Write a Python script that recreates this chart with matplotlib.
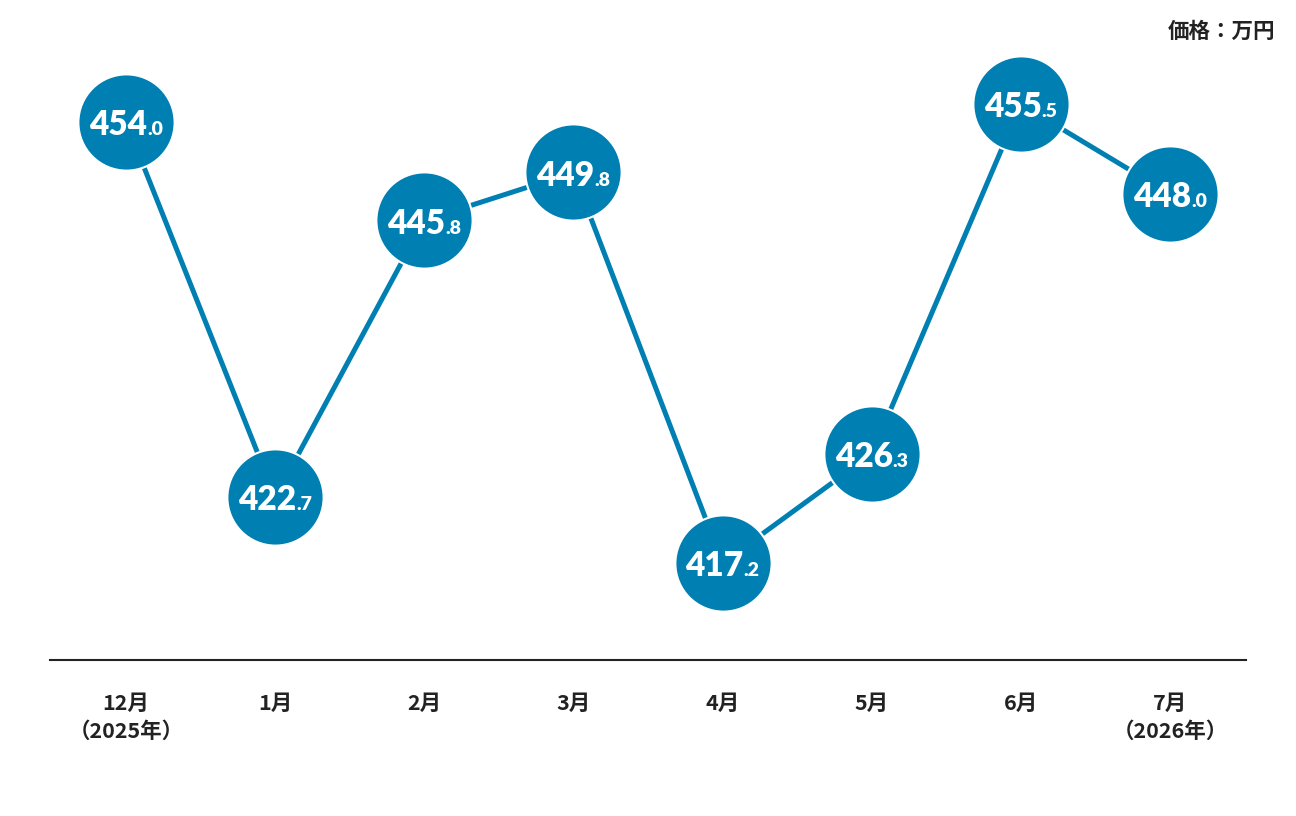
import matplotlib
matplotlib.use('Agg')
import matplotlib.pyplot as plt
from matplotlib.transforms import offset_copy

# data
months = ['12月\n（2025年）', '1月', '2月', '3月', '4月', '5月', '6月', '7月\n（2026年）']
prices = [454.0, 422.7, 445.8, 449.8, 417.2, 426.3, 455.5, 448.0]
unit_label = '価格：万円'

blue = '#007fb2'
plt.rcParams['font.family'] = ['Noto Sans CJK JP', 'DejaVu Sans']

fig = plt.figure(figsize=(12.96, 8.16), dpi=100)
ax = fig.add_axes([50 / 1296, 156 / 816, 1196 / 1296, 660 / 816])
ax.set_xlim(-0.51, 7.51)
ax.set_ylim(409.1, 464.2)

x = list(range(len(prices)))
ax.plot(x, prices, color=blue, lw=3.6, zorder=1, solid_capstyle='butt')
ax.scatter(x, prices, s=4800, color=blue, edgecolors='white', linewidths=1.5, zorder=2)

for s in ['top', 'right', 'left']:
    ax.spines[s].set_visible(False)
ax.spines['bottom'].set_linewidth(1.5)
ax.spines['bottom'].set_color('#222222')
ax.set_yticks([])
ax.set_xticks(x)
ax.set_xticklabels(months, fontsize=15.5, fontweight='bold', color='#222222', linespacing=1.4)
ax.tick_params(axis='x', length=0, pad=24)

# value labels: big integer part + small decimal part
renderer = fig.canvas.get_renderer()
for xi, v in zip(x, prices):
    whole, dec = f'{v:.1f}'.split('.')
    t1 = ax.text(xi, v, whole, fontsize=24, fontweight='heavy', color='white',
                 family=['Lato', 'DejaVu Sans'], ha='left', va='baseline', zorder=3)
    t2 = ax.text(xi, v, '.' + dec, fontsize=14, fontweight='heavy', color='white',
                 family=['Lato', 'DejaVu Sans'], ha='left', va='baseline', zorder=3)
    w1 = t1.get_window_extent(renderer).width
    w2 = t2.get_window_extent(renderer).width
    total = (w1 + w2) * 72 / fig.dpi
    t1.set_transform(offset_copy(ax.transData, fig=fig, x=-total / 2, y=-9.5, units='points'))
    t2.set_transform(offset_copy(ax.transData, fig=fig, x=-total / 2 + w1 * 72 / fig.dpi, y=-9.5, units='points'))

fig.text(1275 / 1296, 1 - 31 / 816, unit_label, ha='right', va='center',
         fontsize=15.5, fontweight='bold', color='#222222')

fig.savefig('out.png', dpi=100, facecolor='white')
